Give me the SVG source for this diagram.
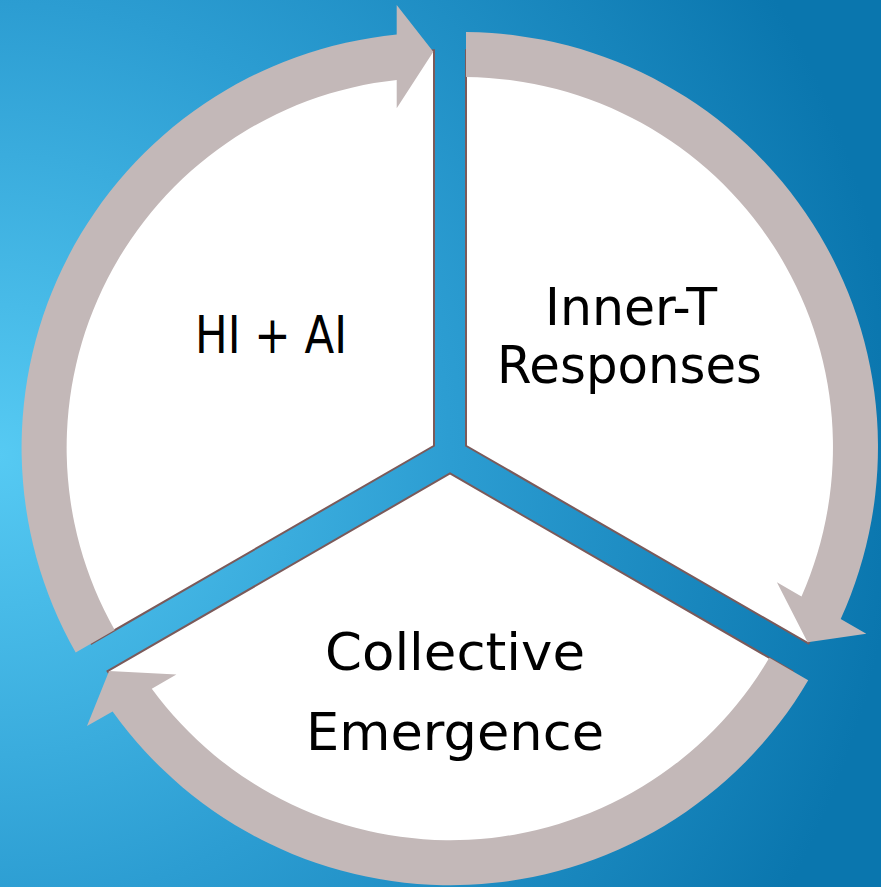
<svg xmlns="http://www.w3.org/2000/svg" width="881" height="887" viewBox="0 0 881 887">
<defs>
<radialGradient id="bg" gradientUnits="userSpaceOnUse" cx="0" cy="455" r="900">
<stop offset="0" stop-color="#56caf3"/>
<stop offset="0.5" stop-color="#2c9dd2"/>
<stop offset="1" stop-color="#0a76ae"/>
</radialGradient>
<style>
.sector{fill:#ffffff;stroke:#7b5a5a;stroke-width:2;stroke-linejoin:miter}
.arrow{fill:#c3b8b8;stroke:none}
.label{font-family:"DejaVu Sans","Liberation Sans",sans-serif;font-size:51px;fill:#000000}
</style>
</defs>
<rect x="0" y="0" width="881" height="887" fill="url(#bg)"/>
<g id="node-hi-ai">
<path class="sector" d="M434,445.76 L434,50.32 A405,405 0 0 0 91.54,643.49 Z"/>
<text class="label" x="195" y="353" textLength="152" lengthAdjust="spacingAndGlyphs">HI + AI</text>
</g>
<g id="node-inner-t">
<path class="sector" d="M466,445.76 L466,50.32 A405,405 0 0 1 808.45,643.48 Z"/>
<text class="label" x="545" y="325" textLength="172" lengthAdjust="spacingAndGlyphs">Inner-T</text>
<text class="label" x="497" y="383" textLength="265" lengthAdjust="spacingAndGlyphs">Responses</text>
</g>
<g id="node-collective">
<path class="sector" d="M450,473.48 L792.45,671.2 A405,405 0 0 1 107.6,671.2 Z"/>
<text class="label" x="325" y="670" textLength="260" lengthAdjust="spacingAndGlyphs">Collective</text>
<text class="label" x="306" y="750" textLength="298" lengthAdjust="spacingAndGlyphs">Emergence</text>
</g>
<g id="connectors">
<path class="arrow" d="M75.7,652.6 A415,415 0 0 1 396.7,34.6 L396.7,5 L433.3,51.7 L396.7,108.3 L396.7,79.9 A370,370 0 0 0 114.7,630.1 Z"/>
<path class="arrow" d="M466,32.1 A415,415 0 0 1 840.7,619 L866.3,633.8 L807.6,642.2 L776.9,582.2 L801.5,596.4 A370,370 0 0 0 466,77.1 Z"/>
<path class="arrow" d="M808.2,680.3 A415,415 0 0 1 112.6,711.4 L87,726.1 L109.1,671.1 L176.4,674.5 L151.8,688.7 A370,370 0 0 0 769.3,657.8 Z"/>
</g>
</svg>
